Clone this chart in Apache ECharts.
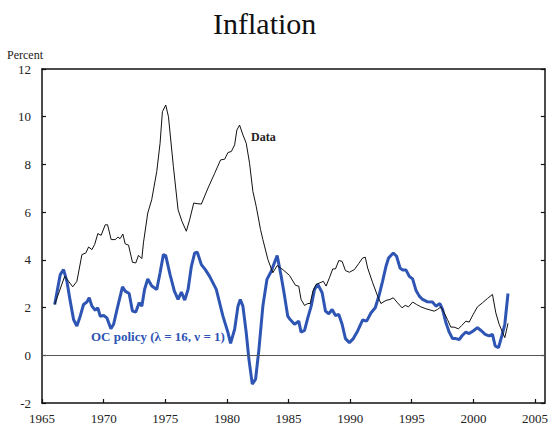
<!DOCTYPE html>
<html>
<head>
<meta charset="utf-8">
<script src="https://cdn.jsdelivr.net/npm/echarts@6/dist/echarts.min.js"></script>
<style>
html, body { margin: 0; padding: 0; background: #fff; }
#chart { width: 551px; height: 425px; }
</style>
</head>
<body>
<div id="chart"></div>
<script>
var dataYears = [1966.03, 1966.84, 1967.16, 1967.49, 1967.83, 1968.24, 1968.56, 1968.78, 1969.05, 1969.27,
  1969.53, 1969.80, 1970.13, 1970.32, 1970.61, 1970.94, 1971.15, 1971.34, 1971.56, 1971.75,
  1972.02, 1972.34, 1972.61, 1972.83, 1973.10, 1973.23, 1973.58, 1973.90, 1974.31, 1974.58,
  1974.77, 1975.04, 1975.26, 1975.66, 1976.04, 1976.36, 1976.71, 1976.98, 1977.31, 1977.66,
  1977.93, 1978.47, 1979.01, 1979.49, 1979.82, 1980.09, 1980.36, 1980.63, 1980.81, 1981.03,
  1981.30, 1981.57, 1981.84, 1982.11, 1982.38, 1982.73, 1982.92, 1983.33, 1983.73, 1984.08,
  1984.54, 1985.08, 1985.57, 1985.83, 1986.02, 1986.30, 1986.57, 1986.76, 1986.98, 1987.24,
  1987.65, 1987.83, 1988.05, 1988.32, 1988.59, 1988.81, 1989.08, 1989.35, 1989.62, 1989.94,
  1990.34, 1990.69, 1991.02, 1991.23, 1991.42, 1991.83, 1992.23, 1992.50, 1992.91, 1993.23,
  1993.50, 1993.85, 1994.21, 1994.47, 1994.74, 1995.07, 1995.39, 1995.74, 1996.15, 1996.55,
  1996.82, 1997.09, 1997.36, 1997.63, 1997.90, 1998.17, 1998.44, 1998.79, 1999.06, 1999.39,
  1999.66, 1999.98, 2000.33, 2000.74, 2001.14, 2001.55, 2001.82, 2002.09, 2002.36, 2002.55,
  2002.81];
var dataValues = [2.13, 3.31, 3.10, 2.87, 3.10, 4.22, 4.29, 4.54, 4.43, 4.64,
  5.10, 5.03, 5.47, 5.47, 4.85, 4.85, 4.95, 4.89, 5.08, 4.67,
  4.62, 3.90, 3.87, 4.19, 4.05, 4.71, 5.96, 6.52, 7.70, 8.89,
  10.21, 10.49, 10.00, 7.91, 6.10, 5.61, 5.20, 5.68, 6.38, 6.35,
  6.34, 7.01, 7.63, 8.19, 8.22, 8.50, 8.54, 8.82, 9.44, 9.65,
  9.24, 8.89, 8.05, 6.87, 6.24, 5.27, 4.85, 4.01, 3.46, 3.76,
  3.59, 3.35, 2.93, 2.90, 2.34, 2.09, 2.17, 2.17, 2.69, 2.97,
  3.06, 3.10, 2.90, 3.25, 3.62, 3.62, 3.97, 3.94, 3.55, 3.48,
  3.59, 3.84, 4.08, 4.11, 3.66, 3.04, 2.48, 2.17, 2.30, 2.34,
  2.41, 2.20, 1.99, 2.09, 2.03, 2.23, 2.13, 2.03, 1.95, 1.89,
  1.85, 1.92, 2.03, 1.78, 1.50, 1.18, 1.18, 1.11, 1.25, 1.43,
  1.39, 1.71, 2.03, 2.20, 2.38, 2.55, 1.78, 1.30, 0.97, 0.74,
  1.34];

// OC policy (lambda = 16, nu = 1)
var ocYears = [1966.03, 1966.48, 1966.75, 1967.02, 1967.29, 1967.56, 1967.83, 1968.10, 1968.37, 1968.64,
  1968.83, 1969.05, 1969.32, 1969.53, 1969.72, 1970.00, 1970.26, 1970.59, 1970.81, 1971.15,
  1971.53, 1971.75, 1972.07, 1972.34, 1972.61, 1972.88, 1973.10, 1973.32, 1973.58, 1973.91,
  1974.31, 1974.58, 1974.85, 1975.04, 1975.39, 1975.74, 1976.04, 1976.31, 1976.58, 1976.85,
  1977.12, 1977.39, 1977.60, 1977.93, 1978.25, 1978.60, 1979.14, 1979.68, 1980.09, 1980.30,
  1980.63, 1980.90, 1981.09, 1981.30, 1981.57, 1981.79, 1982.06, 1982.33, 1982.60, 1982.92,
  1983.25, 1983.60, 1984.08, 1984.41, 1984.68, 1984.94, 1985.08, 1985.49, 1985.83, 1986.02,
  1986.30, 1986.57, 1986.84, 1987.11, 1987.38, 1987.73, 1988.00, 1988.27, 1988.54, 1988.81,
  1989.08, 1989.35, 1989.62, 1989.94, 1990.26, 1990.61, 1991.02, 1991.34, 1991.70, 1992.04,
  1992.37, 1992.63, 1992.91, 1993.12, 1993.50, 1993.77, 1994.05, 1994.27, 1994.54, 1994.80,
  1995.07, 1995.34, 1995.61, 1995.88, 1996.28, 1996.69, 1996.96, 1997.28, 1997.50, 1997.77,
  1998.04, 1998.31, 1998.58, 1998.85, 1999.11, 1999.39, 1999.66, 1999.98, 2000.33, 2000.61,
  2000.96, 2001.28, 2001.55, 2001.77, 2002.04, 2002.31, 2002.55, 2002.81];
var ocValues = [2.13, 3.38, 3.59, 3.10, 2.27, 1.50, 1.23, 1.64, 2.13, 2.23,
  2.41, 2.06, 1.89, 1.99, 1.64, 1.67, 1.57, 1.11, 1.30, 2.06,
  2.87, 2.69, 2.59, 1.85, 1.81, 2.20, 2.06, 2.76, 3.20, 2.90,
  2.76, 3.46, 4.22, 4.18, 3.38, 2.69, 2.34, 2.65, 2.31, 2.76,
  3.73, 4.29, 4.32, 3.80, 3.59, 3.31, 2.76, 1.64, 0.95, 0.50,
  1.09, 2.06, 2.34, 2.06, 0.95, -0.17, -1.21, -1.00, 0.25, 2.06,
  3.18, 3.52, 4.18, 3.30, 2.48, 1.64, 1.53, 1.30, 1.43, 0.97,
  1.04, 1.58, 2.06, 2.76, 2.97, 2.62, 1.85, 1.74, 1.92, 1.67,
  1.71, 1.30, 0.70, 0.53, 0.70, 1.02, 1.48, 1.43, 1.78, 1.99,
  2.55, 3.10, 3.73, 4.08, 4.29, 4.15, 3.66, 3.57, 3.57, 3.31,
  3.20, 2.73, 2.48, 2.34, 2.24, 2.23, 2.06, 2.17, 1.92, 1.37,
  0.97, 0.70, 0.70, 0.66, 0.84, 0.97, 0.91, 1.02, 1.16, 1.04,
  0.88, 0.81, 0.88, 0.39, 0.32, 0.81, 1.30, 2.59];

var serif = '"Liberation Serif", "DejaVu Serif", serif';
var blue = '#2E55B4';

function pairs(xs, ys) {
  var out = [];
  for (var i = 0; i < xs.length; i++) {
    out.push([xs[i], ys[i]]);
  }
  return out;
}

var chart = echarts.init(document.getElementById('chart'), null, { renderer: 'svg' });

var frameLine = { show: true, onZero: false, lineStyle: { color: '#111', width: 1.5 } };

var option = {
  animation: false,
  backgroundColor: '#fff',
  title: {
    text: 'Inflation',
    left: 213,
    top: 8,
    padding: 0,
    textStyle: { fontFamily: serif, fontSize: 30, fontWeight: 'normal', color: '#111' }
  },
  grid: { left: 42, right: 5, top: 69, bottom: 21 },
  xAxis: [
    {
      type: 'value',
      min: 1965,
      max: 2005.8,
      interval: 5,
      position: 'bottom',
      axisLine: frameLine,
      axisTick: { show: true, inside: true, length: 4, lineStyle: { color: '#111', width: 1.2 } },
      axisLabel: {
        margin: 9,
        fontFamily: serif,
        fontSize: 13,
        color: '#222',
        showMaxLabel: false,
        formatter: function (v) { return v % 5 === 0 ? String(v) : ''; }
      },
      splitLine: { show: false }
    },
    {
      type: 'value',
      min: 1965,
      max: 2005.8,
      position: 'top',
      axisLine: frameLine,
      axisTick: { show: false },
      axisLabel: { show: false },
      splitLine: { show: false }
    }
  ],
  yAxis: [
    {
      type: 'value',
      min: -2,
      max: 12,
      interval: 2,
      position: 'left',
      axisLine: frameLine,
      axisTick: { show: true, inside: true, length: 4, lineStyle: { color: '#111', width: 1.2 } },
      axisLabel: { margin: 11, fontFamily: serif, fontSize: 13, color: '#222' },
      splitLine: { show: false }
    },
    {
      type: 'value',
      min: -2,
      max: 12,
      interval: 2,
      position: 'right',
      axisLine: frameLine,
      axisTick: { show: true, inside: true, length: 4, lineStyle: { color: '#111', width: 1.2 } },
      axisLabel: { show: false },
      splitLine: { show: false }
    }
  ],
  graphic: [
    {
      type: 'text',
      left: 7,
      top: 49,
      style: { text: 'Percent', font: '12px ' + serif, fill: '#222' }
    },
    {
      type: 'text',
      left: 251,
      top: 131,
      style: { text: 'Data', font: 'bold 12px ' + serif, fill: '#222' }
    },
    {
      type: 'text',
      left: 91,
      top: 330,
      style: { text: 'OC policy (λ = 16, ν = 1)', font: 'bold 13px ' + serif, fill: blue }
    }
  ],
  series: [
    {
      name: 'OC policy',
      type: 'line',
      data: pairs(ocYears, ocValues),
      showSymbol: false,
      smooth: false,
      lineStyle: { color: blue, width: 3 },
      markLine: {
        silent: true,
        symbol: 'none',
        label: { show: false },
        lineStyle: { color: '#555', width: 1, type: 'solid' },
        data: [{ yAxis: 0 }]
      }
    },
    {
      name: 'Data',
      type: 'line',
      data: pairs(dataYears, dataValues),
      showSymbol: false,
      smooth: false,
      lineStyle: { color: '#111', width: 1 }
    }
  ]
};

chart.setOption(option);
</script>
</body>
</html>
